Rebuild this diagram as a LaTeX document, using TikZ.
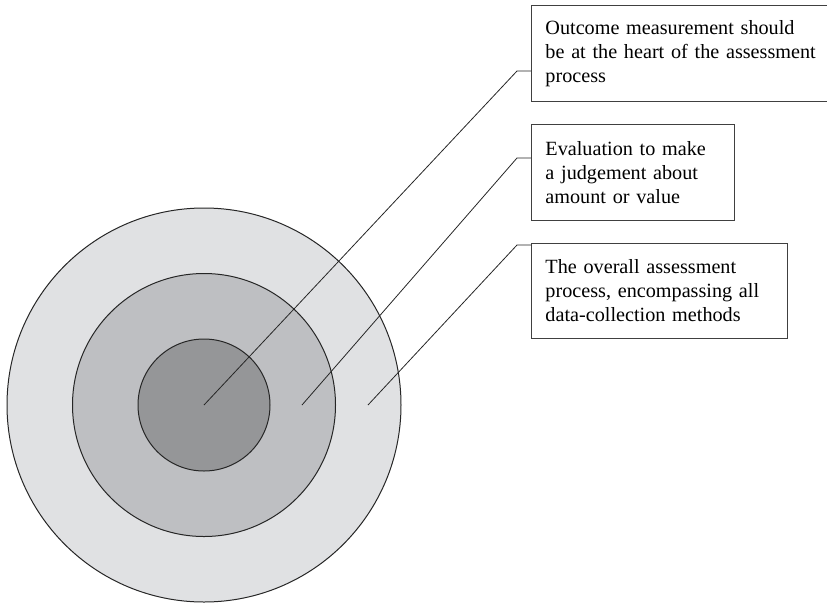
\documentclass[tikz,border=0pt]{standalone}
\usepackage{fontspec}
\setmainfont{Liberation Serif}
\usetikzlibrary{positioning}
\definecolor{ringOuter}{RGB}{224,225,227}
\definecolor{ringMid}{RGB}{190,191,194}
\definecolor{ringCore}{RGB}{149,150,152}

\begin{document}
\begin{tikzpicture}[
  x=1pt,
  y=-1pt,
  font=\fontsize{20.2}{24}\selectfont,
  ring/.style={circle, draw=black!85, line width=1pt, inner sep=0pt},
  box/.style={draw=black!75, line width=0.9pt, anchor=north west, align=left, inner xsep=14pt, minimum height=96pt},
  lead/.style={draw=black!85, line width=0.8pt}
]
\useasboundingbox (0,0) rectangle (827,603);
\clip (0,0) rectangle (827,603);

% Kreise
\node[ring, fill=ringOuter, minimum size=394pt] (outer) at (204,405) {};
\node[ring, fill=ringMid, minimum size=263pt] (middle) at (204,405) {};
\node[ring, fill=ringCore, minimum size=132pt] (core) at (204,405) {};

% Texte
\node[box, text width=300pt] (outcome) at (531,5) {Outcome measurement should\\be at the heart of the assessment\\process};
\node[box, text width=175pt] (evaluation) at (531,124) {Evaluation to make\\a judgement about\\amount or value};
\node[box, text width=228pt, minimum height=95pt] (overall) at (531,243) {The overall assessment\\process, encompassing all\\data-collection methods};

% Linien
\coordinate (c1) at (204,405);
\coordinate (c2) at (302,405);
\coordinate (c3) at (368,405);
\coordinate (k1) at (517,71);
\coordinate (k2) at (517,158);
\coordinate (k3) at (517,245);
\draw[lead] (c1) -- (k1) -- (k1 -| outcome.west);
\draw[lead] (c2) -- (k2) -- (k2 -| evaluation.west);
\draw[lead] (c3) -- (k3) -- (k3 -| overall.west);

\end{tikzpicture}
\end{document}
